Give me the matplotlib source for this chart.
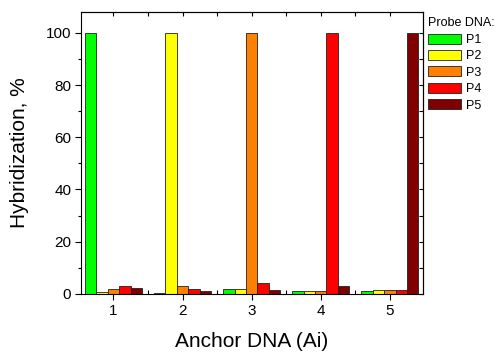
import matplotlib

matplotlib.use("Agg")
import matplotlib.pyplot as plt
import numpy as np
from matplotlib.ticker import MultipleLocator

plt.rcParams["font.family"] = ["Liberation Sans", "DejaVu Sans"]

anchors = ["1", "2", "3", "4", "5"]
probes = ["P1", "P2", "P3", "P4", "P5"]
colours = ["#00ff00", "#ffff00", "#ff8000", "#ff0000", "#800000"]
# hybridization (%) of each probe against each anchor
hyb = {
    "P1": [100, 0.4, 2.0, 1.0, 1.1],
    "P2": [0.6, 100, 2.0, 1.0, 1.5],
    "P3": [1.9, 3.0, 100, 1.0, 1.5],
    "P4": [3.1, 1.9, 4.1, 100, 1.5],
    "P5": [2.2, 1.0, 1.4, 3.1, 100],
}

fig = plt.figure(figsize=(5.0, 3.52), dpi=100)
ax = fig.add_axes([0.162, 0.165, 0.684, 0.801])

x = np.arange(1, len(anchors) + 1)
w = 0.165
for i, (p, c) in enumerate(zip(probes, colours)):
    ax.bar(x + (i - 2) * w, hyb[p], width=w, color=c, edgecolor="#202020",
           linewidth=0.6, label=p)

ax.set_xlim(0.53, 5.48)
ax.set_ylim(0, 108)
ax.set_xticks(x)
ax.set_xticklabels(anchors)
ax.xaxis.set_minor_locator(MultipleLocator(0.5))
ax.yaxis.set_major_locator(MultipleLocator(20))
ax.yaxis.set_minor_locator(MultipleLocator(10))
ax.tick_params(axis="both", which="major", labelsize=11, length=4, width=0.8,
               direction="out", pad=3)
ax.tick_params(axis="x", which="minor", length=3, width=0.8, direction="in")
ax.tick_params(axis="y", which="minor", length=2, width=0.8, direction="out")
ax.tick_params(axis="x", which="both", top=False)
ax.tick_params(axis="y", which="both", right=False)
for s in ax.spines.values():
    s.set_linewidth(0.8)

# mirrored inward ticks on top and right
sec = ax.secondary_xaxis("top")
sec.set_xticks(np.arange(1.0, 5.5, 0.5))
sec.tick_params(direction="in", length=3, width=0.8, labeltop=False)
sec.spines["top"].set_linewidth(0.8)
sec2 = ax.secondary_yaxis("right")
sec2.yaxis.set_major_locator(MultipleLocator(20))
sec2.yaxis.set_minor_locator(MultipleLocator(10))
sec2.tick_params(which="both", direction="in", length=3, width=0.8,
                 labelright=False)
sec2.spines["right"].set_linewidth(0.8)

ax.set_xlabel("Anchor DNA (Ai)", fontsize=15, labelpad=10)
ax.set_ylabel("Hybridization, %", fontsize=15, labelpad=12)

leg = ax.legend(title="Probe DNA:", loc="upper left", bbox_to_anchor=(1.01, 0.985),
                frameon=False, fontsize=9, title_fontsize=9, handlelength=2.7,
                handleheight=0.85, handletextpad=0.4, labelspacing=0.33,
                borderaxespad=0.0, borderpad=0.1)
leg._legend_box.align = "left"
leg._legend_box.sep = 3

fig.savefig("out.png", dpi=100)
